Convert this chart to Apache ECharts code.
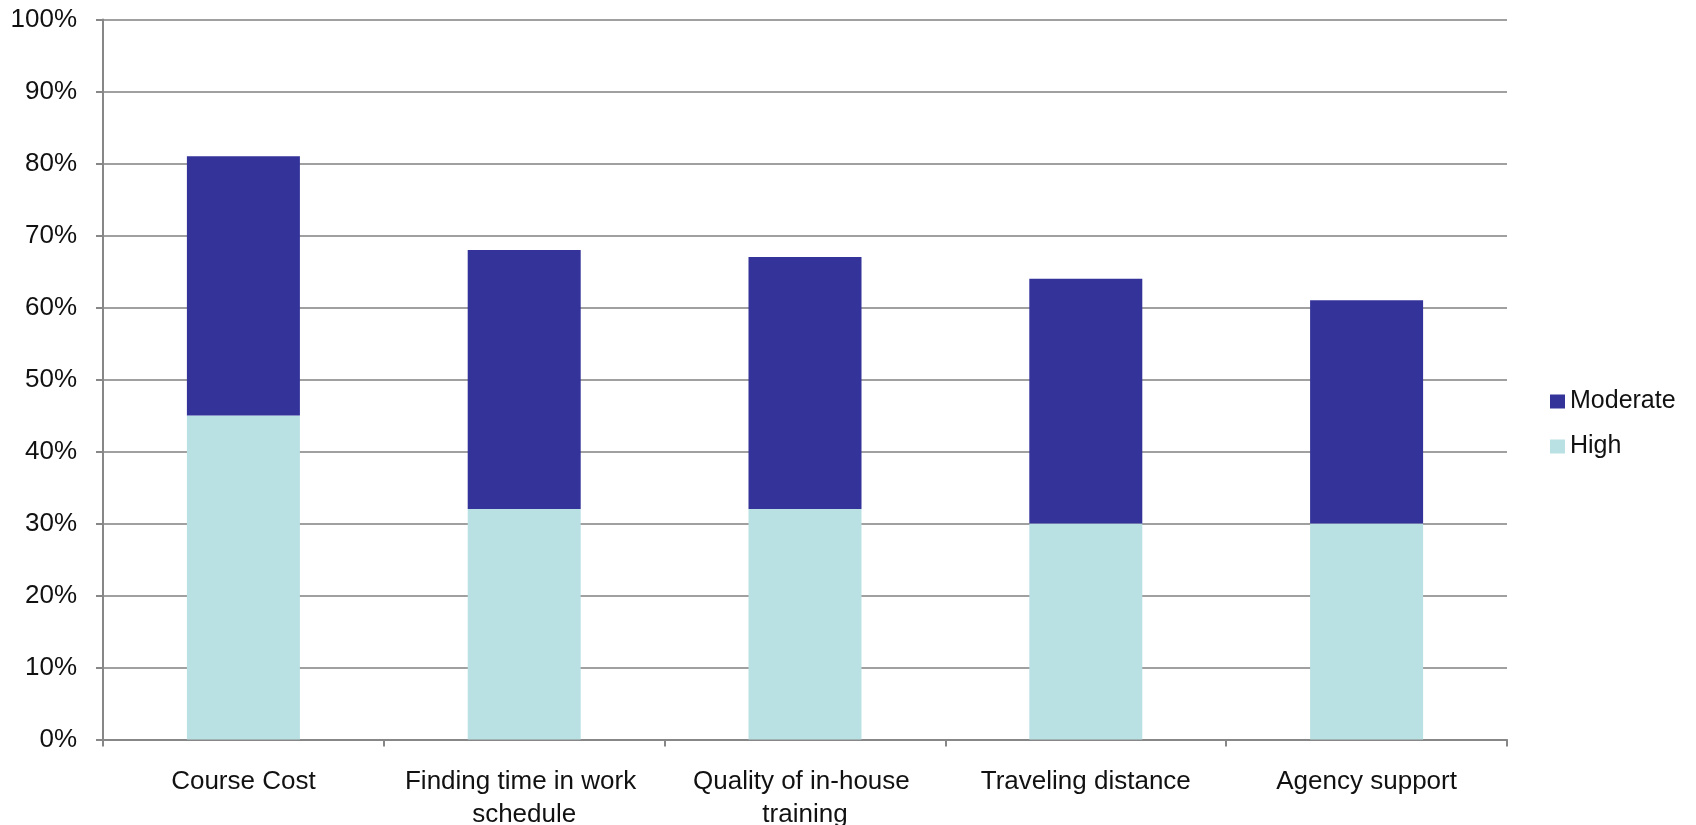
<!DOCTYPE html>
<html>
<head>
<meta charset="utf-8">
<script src="https://cdn.jsdelivr.net/npm/echarts@6/dist/echarts.min.js"></script>
<style>
  html, body { margin: 0; padding: 0; background: #ffffff; }
  #chart { width: 1696px; height: 825px; }
</style>
</head>
<body>
<div id="chart"></div>
<script>
// Barriers to training, share of respondents rating each as a high or moderate barrier
const categories = ['Course Cost', 'Finding time in work schedule', 'Quality of in-house training', 'Traveling distance', 'Agency support'];
const highValues = [45, 32, 32, 30, 30];
const moderateValues = [36, 36, 35, 34, 31];
const legendOrder = ['Moderate', 'High'];

const FONT = '"Liberation Sans", Arial, sans-serif';
const axisGray = '#878787';

const chart = echarts.init(document.getElementById('chart'), null, { renderer: 'canvas' });

chart.setOption({
  backgroundColor: '#ffffff',
  animation: false,
  grid: { left: 103, right: 189, top: 19.5, bottom: 85.5, containLabel: false, outerBoundsMode: 'none' },
  legend: {
    data: legendOrder,
    orient: 'vertical',
    left: 1545,
    top: 384,
    itemWidth: 15,
    itemHeight: 14,
    itemGap: 20,
    icon: 'rect',
    textStyle: { fontFamily: FONT, fontSize: 25, color: '#111', lineHeight: 25 }
  },
  xAxis: {
    type: 'category',
    data: categories,
    boundaryGap: true,
    axisLine: { lineStyle: { color: axisGray, width: 2 } },
    axisTick: { show: true, alignWithLabel: false, length: 7, lineStyle: { color: axisGray, width: 2 } },
    axisLabel: {
      interval: 0,
      margin: 26,
      fontFamily: FONT,
      fontSize: 26,
      lineHeight: 33,
      color: '#111',
      width: 260,
      overflow: 'break',
      align: 'center'
    }
  },
  yAxis: {
    type: 'value',
    min: 0,
    max: 100,
    interval: 10,
    axisLine: { show: true, lineStyle: { color: axisGray, width: 2 } },
    axisTick: { show: true, length: 7, lineStyle: { color: axisGray, width: 2 } },
    axisLabel: {
      formatter: '{value}%',
      margin: 26,
      fontFamily: FONT,
      fontSize: 26,
      color: '#111'
    },
    splitLine: { show: true, lineStyle: { color: '#a0a0a0', width: 2 } }
  },
  series: [
    {
      name: 'High',
      type: 'bar',
      stack: 'total',
      data: highValues,
      barWidth: 113,
      itemStyle: { color: '#b9e0e3' }
    },
    {
      name: 'Moderate',
      type: 'bar',
      stack: 'total',
      data: moderateValues,
      barWidth: 113,
      itemStyle: { color: '#343399' }
    }
  ]
});
</script>
</body>
</html>
